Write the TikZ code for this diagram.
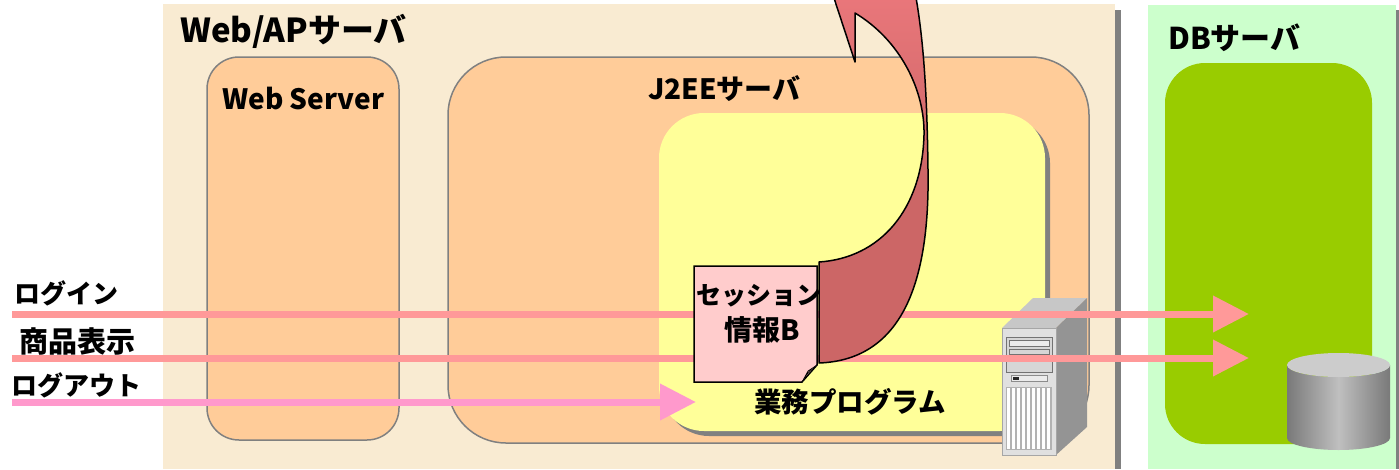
\documentclass[tikz,border=0pt]{standalone}
\usepackage{fontspec}
\setmainfont{Noto Sans CJK JP}
\usetikzlibrary{arrows.meta,shadows}

\definecolor{beige}{HTML}{F9EBD2}
\definecolor{orangebox}{HTML}{FFCC99}
\definecolor{yellowbox}{HTML}{FFFF99}
\definecolor{dbbg}{HTML}{CCFFCC}
\definecolor{dbinner}{HTML}{99CC00}
\definecolor{flowpink}{HTML}{FF9999}
\definecolor{logoutpink}{HTML}{FF99CC}
\definecolor{notepink}{HTML}{FFCCCC}
\definecolor{arrowred}{HTML}{CC6666}
\definecolor{arrowlight}{HTML}{EA777B}
\definecolor{edgegray}{HTML}{808080}

\begin{document}
\begin{tikzpicture}[x=1pt,y=-1pt,
  serverbox/.style={draw=edgegray, line width=1.5pt, fill=orangebox,
    inner sep=0pt, outer sep=0pt, anchor=north west},
  progbox/.style={fill=yellowbox, inner sep=0pt, outer sep=0pt,
    anchor=north west, rounded corners=45pt,
    drop shadow={shadow xshift=5pt, shadow yshift=-5pt, fill=edgegray, opacity=1}},
  dbbox/.style={fill=dbinner, inner sep=0pt, outer sep=0pt,
    anchor=north west, rounded corners=40pt},
  title/.style={font=\bfseries\fontsize{33}{35}\selectfont, anchor=west, inner sep=0pt},
  cond/.style={font=\bfseries\fontsize{28}{30}\selectfont, anchor=west, inner sep=0pt},
  label/.style={font=\bfseries\fontsize{26}{28}\selectfont, anchor=west, inner sep=0pt},
  flow/.style={draw=flowpink, line width=7pt,
    -{Triangle[length=36pt,width=35pt]}},
  logout/.style={flow, draw=logoutpink}
]
\useasboundingbox (0,0) rectangle (1399,469);
\fill[white] (0,0) rectangle (1399,469);

% server areas
\fill[beige] (163,4) rectangle (1115,469);
\fill[edgegray] (1115,10) rectangle (1121,469);
\fill[dbbg] (1148,5) rectangle (1396,469);
\fill[edgegray] (1396,10) rectangle (1399,469);

% inner containers
\node[serverbox, rounded corners=32pt, minimum width=192pt, minimum height=383pt] (web) at (207,57) {};
\node[serverbox, rounded corners=58pt, minimum width=641pt, minimum height=386pt] (j2ee) at (448,57) {};
\node[progbox, minimum width=386pt, minimum height=318pt] (prog) at (659,113) {};
\node[dbbox, minimum width=207pt, minimum height=381pt] (dbarea) at (1165,63) {};

% database cylinder
\shade[left color=gray!95!black, right color=gray!95!black, middle color=gray!50]
  (1287,365) -- (1287,438) arc[start angle=180, end angle=0, x radius=51.5, y radius=12]
  -- (1390,365) arc[start angle=0, end angle=180, x radius=51.5, y radius=12] -- cycle;
\fill[black!20] (1338.5,365) ellipse[x radius=51.5, y radius=12];

% application server tower
\fill[black!22] (1002,328) -- (1056,328) -- (1087,298) -- (1033,298) -- cycle;
\fill[black!42] (1056,328) -- (1087,298) -- (1087,427) -- (1056,455) -- cycle;
\fill[black!12] (1002,328) rectangle (1056,455);
\draw[black!35, line width=0.6pt] (1002,328) rectangle (1056,455);
\fill[black!16] (1006,337) rectangle (1052,372);
\draw[black!55, line width=0.8pt] (1006,337) rectangle (1052,372);
\fill[black!8] (1009,340) rectangle (1049,346);
\draw[black!55, line width=0.6pt] (1009,340) rectangle (1049,346);
\draw[black!55, line width=0.6pt] (1009,349) rectangle (1049,354);
\fill[black!8] (1011,375) rectangle (1047,381);
\draw[black!45, line width=0.6pt] (1011,375) rectangle (1047,381);
\fill[black!85] (1013,377) rectangle (1019,380);
\fill[black!30] (1006,387) rectangle (1052,450);
\foreach \i in {0,...,8}
  \fill[white] ({1007+\i*5},388) rectangle ++(3,61);

% container titles
\node[title] (waptitle) at (180,31) {Web/APサーバ};
\node[cond] (webtitle) at (222,99) {Web Server};
\node[cond] (j2eetitle) at (648,89) {J2EEサーバ};
\node[cond, font=\bfseries\fontsize{30}{32}\selectfont] (dbtitle) at (1168,38) {DBサーバ};
\node[label, font=\bfseries\fontsize{27.5}{29}\selectfont] (progtitle) at (754,402) {業務プログラム};

% request flows
\coordinate (loginStart) at (12,314);
\coordinate (loginEnd) at (1249,314);
\coordinate (showStart) at (12,358);
\coordinate (showEnd) at (1249,358);
\coordinate (logoutStart) at (12,402);
\coordinate (logoutEnd) at (696,402);
\draw[flow] (loginStart) -- (loginEnd);
\draw[flow] (showStart) -- (showEnd);
\draw[logout] (logoutStart) -- (logoutEnd);

% session note with curled corner
\filldraw[fill=notepink, draw=black, line width=1.5pt]
  (694,266) -- (817,266) -- (817,365) -- (802,382) -- (694,382) -- cycle;
\filldraw[fill=black!25!notepink, draw=black, line width=0.6pt]
  (817,365) -- (808,371) -- (802,382) .. controls (806,375) and (810,369) .. (817,365);
\node[font=\bfseries\fontsize{25}{36}\selectfont, align=center, inner sep=0pt]
  (session) at (759,314) {セッション\\\hspace*{6pt}{\fontsize{28}{36}\selectfont 情報B}};

% session hand-over arrow leaving upwards
\begin{scope}
\clip (0,0) rectangle (1399,469);
\shade[top color=arrowlight, bottom color=arrowred, middle color=arrowred,
       draw=black, line width=1.5pt, line join=round]
  (832,-8) -- (855,62) -- (855,13)
  .. controls (900,40) and (925,90) .. (924,135)
  .. controls (922,210) and (880,258) .. (819,262)
  -- (819,363)
  .. controls (898,360) and (930,290) .. (928,170)
  .. controls (927,80) and (922,30) .. (915,-8) -- cycle;
\end{scope}

% flow labels
\node[label] (lblLogin) at (14,293) {ログイン};
\node[label, font=\bfseries\fontsize{29}{31}\selectfont] (lblShow) at (19,341) {商品表示};
\node[label] (lblLogout) at (11,385) {ログアウト};
\end{tikzpicture}
\end{document}
